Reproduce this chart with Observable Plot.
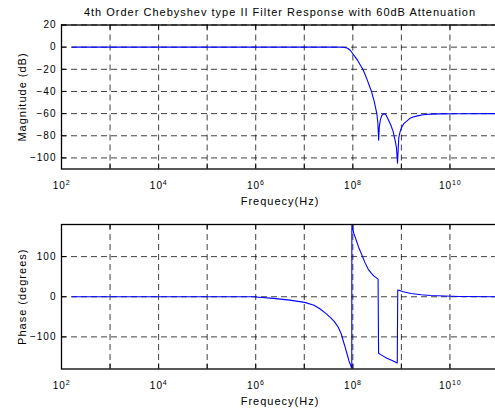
<!DOCTYPE html>
<html><head><meta charset="utf-8">
<script src="https://cdn.jsdelivr.net/npm/d3@7"></script>
<script src="https://cdn.jsdelivr.net/npm/@observablehq/plot@0.6"></script>
<style>
html,body{margin:0;padding:0;overflow:hidden;background:#fff;width:495px;height:412px}
#wrap{position:relative;width:495px;height:412px;overflow:hidden}
#wrap svg{position:absolute;left:0;max-width:none !important;font-family:"Liberation Sans",Arial,Helvetica,sans-serif;background:transparent}
#wrap svg text{letter-spacing:1px}
</style></head><body><div id="wrap"></div>
<script>
// ---- data (frequency given as log10 of Hz) ----
const titleText = "4th Order Chebyshev type II Filter Response with 60dB Attenuation";
const xLabelText = "Frequecy(Hz)";
const magLabel = "Magnitude (dB)";
const phaseLabel = "Phase (degrees)";

const magLogF = [2.22, 7.70, 7.80, 7.85, 7.90, 7.95, 8.00, 8.05, 8.10, 8.15, 8.206, 8.25, 8.30, 8.34, 8.384, 8.44, 8.494, 8.515, 8.532, 8.545, 8.57, 8.60, 8.64, 8.68, 8.726, 8.78, 8.829, 8.875, 8.899, 8.92, 8.946, 8.97, 9.00, 9.05, 9.105, 9.17, 9.24, 9.35, 9.447, 9.60, 9.80, 10.2, 11.0];
const magDb   = [0, 0, -0.1, -0.4, -1.2, -3, -6, -9, -12, -15.8, -20, -24.5, -30, -34.8, -40, -49, -60, -68, -84, -72, -65, -61.5, -60.2, -61, -65, -70, -76, -85, -91, -104.7, -82, -77, -73, -69, -67, -64.5, -63, -61.8, -61, -60.5, -60.2, -60.1, -60];

const phaseLogF = [2.22, 5.95, 6.00, 6.36, 6.70, 7.01, 7.20, 7.32, 7.45, 7.53, 7.62, 7.70, 7.76, 7.80, 7.84, 7.88, 7.92, 7.96, 7.978, 7.98, 8.02, 8.076, 8.13, 8.18, 8.25, 8.315, 8.37, 8.43, 8.52, 8.53, 8.60, 8.70, 8.80, 8.915, 8.925, 8.95, 9.035, 9.20, 9.41, 9.60, 9.89, 10.2, 11.0];
const phaseDeg  = [0, 0, -0.5, -4, -8.5, -14, -21, -30, -42, -51, -62, -76, -92, -109, -125, -142, -160, -172, -180, 180, 158, 139, 120, 106, 85, 69, 60, 52, 44, -141, -146, -153, -158, -165, 17, 16, 12.4, 8, 5, 3, 1.7, 0.8, 0];

const xDomainExp = [2, 11];
const xTickExps = [2, 4, 6, 8, 10];
const xGridExps = [3, 4, 5, 6, 7, 8, 9, 10];
const magTicks = [20, 0, -20, -40, -60, -80, -100];
const magDomain = [-110, 20];
const phaseTicks = [100, 0, -100];
const phaseDomain = [-180, 180];

const magData = magLogF.map((e, i) => ({f: 10 ** e, v: magDb[i]}));
const phaseData = phaseLogF.map((e, i) => ({f: 10 ** e, v: phaseDeg[i]}));

function panel({height, marginTop, marginBottom, yDomain, yTicks, data, ylabel, title}) {
  const width = 500, marginLeft = 61, marginRight = 2;
  const fw = width - marginLeft - marginRight;
  const fh = height - marginTop - marginBottom;
  const decades = d3.range(xDomainExp[0], xDomainExp[1] + 1).map(e => 10 ** e);
  const gridStyle = {stroke: "#000", strokeOpacity: 0.75, strokeWidth: 1, strokeDasharray: "6,4"};
  const tickLabelMarks = xTickExps.flatMap(e => {
    const expW = String(e).length * 4.5;
    const total = 13 + expW;
    return [
      Plot.text([e], {x: d => 10 ** d, text: () => "10", frameAnchor: "bottom", lineAnchor: "bottom", textAnchor: "start", dx: -total / 2, dy: 20, fontSize: 10, fill: "#000"}),
      Plot.text([e], {x: d => 10 ** d, text: d => String(d), frameAnchor: "bottom", lineAnchor: "bottom", textAnchor: "start", dx: -total / 2 + 13, dy: 16, fontSize: 7, fill: "#000"})
    ];
  });
  const marks = [
    Plot.ruleX(xGridExps.map(e => 10 ** e), gridStyle),
    Plot.ruleY(yTicks, gridStyle),
    Plot.ruleX(decades, {stroke: "#000", insetBottom: fh - 5}),
    Plot.ruleX(decades, {stroke: "#000", insetTop: fh - 5}),
    Plot.ruleY(yTicks, {stroke: "#000", insetRight: fw - 5}),
    Plot.line(data, {x: "f", y: "v", stroke: "#0000ff", strokeWidth: 1.1, clip: true}),
    Plot.frame({stroke: "#000", strokeWidth: 1.3}),
    Plot.axisY(yTicks, {tickSize: 0, tickPadding: 5, fontSize: 10, label: null, fill: "#000"}),
    ...tickLabelMarks,
    Plot.text([xLabelText], {frameAnchor: "bottom", lineAnchor: "bottom", dy: 35.5, fontSize: 11, fill: "#000"}),
    Plot.text([ylabel], {frameAnchor: "left", rotate: -90, dx: -39, textAnchor: "middle", lineAnchor: "middle", fontSize: 11, fill: "#000"})
  ];
  if (title) marks.push(Plot.text([title], {frameAnchor: "top", lineAnchor: "bottom", dy: -9, fontSize: 11, fill: "#000"}));
  return Plot.plot({
    width, height, marginLeft, marginRight, marginTop, marginBottom,
    style: {background: "transparent", fontFamily: '"Liberation Sans", Arial, sans-serif', overflow: "visible", maxWidth: "none"},
    x: {type: "log", domain: xDomainExp.map(e => 10 ** e), axis: null},
    y: {domain: yDomain},
    marks
  });
}

const wrap = document.getElementById("wrap");
const top1 = panel({height: 210, marginTop: 24.5, marginBottom: 41.5, yDomain: magDomain, yTicks: magTicks, data: magData, ylabel: magLabel, title: titleText});
top1.style.top = "0px";
wrap.appendChild(top1);
const bot = panel({height: 202, marginTop: 14, marginBottom: 43.5, yDomain: phaseDomain, yTicks: phaseTicks, data: phaseData, ylabel: phaseLabel});
bot.style.top = "210px";
wrap.appendChild(bot);
</script></body></html>
